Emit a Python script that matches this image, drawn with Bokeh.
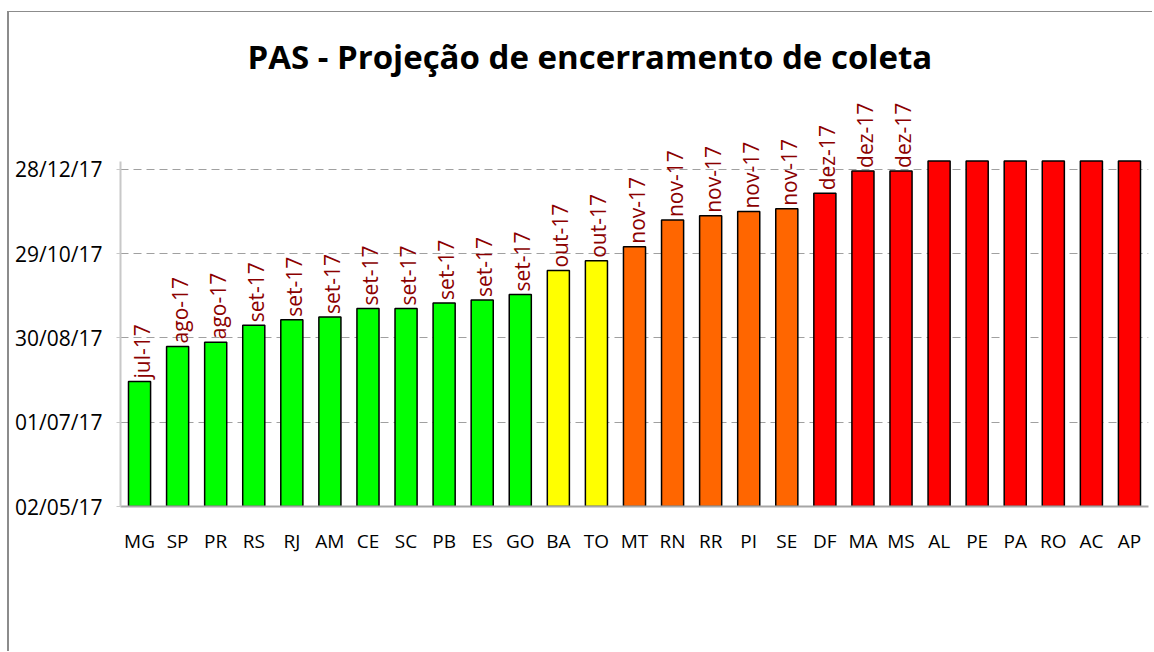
from datetime import datetime
import math

from bokeh.plotting import figure
from bokeh.models import ColumnDataSource, FixedTicker, FactorRange, Range1d
from bokeh.embed import file_html
from bokeh.resources import INLINE
from bokeh.core.properties import value

# ---------------- data ----------------
states = ["MG", "SP", "PR", "RS", "RJ", "AM", "CE", "SC", "PB", "ES", "GO",
          "BA", "TO", "MT", "RN", "RR", "PI", "SE", "DF", "MA", "MS",
          "AL", "PE", "PA", "RO", "AC", "AP"]
end_dates = ["30/07/17", "24/08/17", "27/08/17", "08/09/17", "12/09/17", "14/09/17",
             "20/09/17", "20/09/17", "24/09/17", "26/09/17", "30/09/17",
             "17/10/17", "24/10/17", "03/11/17", "22/11/17", "25/11/17", "28/11/17",
             "30/11/17", "11/12/17", "27/12/17", "27/12/17",
             # beyond the axis maximum (bars clipped, no label in the original)
             "15/01/18", "15/01/18", "15/01/18", "15/01/18", "15/01/18", "15/01/18"]
y_tick_labels = ["02/05/17", "01/07/17", "30/08/17", "29/10/17", "28/12/17"]
axis_max_label = "03/01/18"

pt_months = ["jan", "fev", "mar", "abr", "mai", "jun", "jul", "ago", "set", "out", "nov", "dez"]
month_colors = {7: "#00FF00", 8: "#00FF00", 9: "#00FF00", 10: "#FFFF00",
                11: "#FF6600", 12: "#FF0000", 1: "#FF0000"}

# ---------------- derived ----------------
def parse(s):
    return datetime.strptime(s, "%d/%m/%y")

origin = parse(y_tick_labels[0])
def days(s):
    return (parse(s) - origin).days

ticks = [days(t) for t in y_tick_labels]
axis_max = days(axis_max_label)
vals = [days(d) for d in end_dates]
tops = [min(v, axis_max) for v in vals]
colors = [month_colors[parse(d).month] for d in end_dates]

lab_x = [s for s, v in zip(states, vals) if v <= axis_max]
lab_y = [v for v in vals if v <= axis_max]
lab_t = [f"{pt_months[parse(d).month - 1]}-{parse(d).strftime('%y')}"
         for d, v in zip(end_dates, vals) if v <= axis_max]

src = ColumnDataSource(dict(x=states, top=tops, color=colors))
lab = ColumnDataSource(dict(x=lab_x, y=lab_y, t=lab_t))

FONT = "Open Sans"

p = figure(width=1145, height=640,
           x_range=FactorRange(*states, range_padding=0),
           y_range=Range1d(0, 292.7),
           output_backend="svg", toolbar_location=None,
           min_border_left=111, min_border_right=6,
           min_border_top=83, min_border_bottom=146)
p.styles = {"border-top": "1px solid #8c8c8c", "border-left": "2px solid #8c8c8c",
            "margin-top": "11px", "margin-left": "7px"}

p.title.text = "PAS - Projeção de encerramento de coleta"
p.title.text_font = FONT
p.title.text_font_style = "bold"
p.title.text_font_size = "33px"
p.title.text_color = "#000000"
p.title.align = "left"
p.title.offset = 127
p.title.standoff = 33

p.vbar(x="x", top="top", bottom=0, width=0.58, source=src,
       fill_color="color", line_color="#000000", line_width=1.5)

p.text(x="x", y="y", text="t", source=lab, angle=math.pi / 2,
       text_align="left", text_baseline="middle", y_offset=-3, x_offset=2,
       text_font=value(FONT), text_font_size="21px", text_color="#8B0000")

p.outline_line_color = None
p.background_fill_color = "white"
p.border_fill_color = "white"

p.xgrid.grid_line_color = None
p.ygrid.ticker = FixedTicker(ticks=ticks)
p.ygrid.grid_line_color = "#a0a0a0"
p.ygrid.grid_line_dash = "8 5"
p.ygrid.grid_line_width = 1

p.yaxis.ticker = FixedTicker(ticks=ticks)
p.yaxis.major_label_overrides = {t: l for t, l in zip(ticks, y_tick_labels)}
p.yaxis.bounds = (0, axis_max)
p.yaxis.axis_line_color = "#c8c8c8"
p.yaxis.axis_line_width = 2
p.yaxis.major_tick_out = 4
p.yaxis.major_tick_in = 0
p.yaxis.major_tick_line_color = "#c8c8c8"
p.yaxis.minor_tick_line_color = None
p.yaxis.major_label_standoff = 14
p.yaxis.major_label_text_font = FONT
p.yaxis.major_label_text_font_size = "21px"
p.yaxis.major_label_text_color = "#000000"

p.xaxis.axis_line_color = "#a6a6a6"
p.xaxis.axis_line_width = 2
p.xaxis.major_tick_line_color = None
p.xaxis.minor_tick_line_color = None
p.xaxis.major_label_standoff = 15
p.xaxis.major_label_text_font = FONT
p.xaxis.major_label_text_font_size = "19px"
p.xaxis.major_label_text_color = "#000000"

open("out.html", "w").write(file_html(p, INLINE))
